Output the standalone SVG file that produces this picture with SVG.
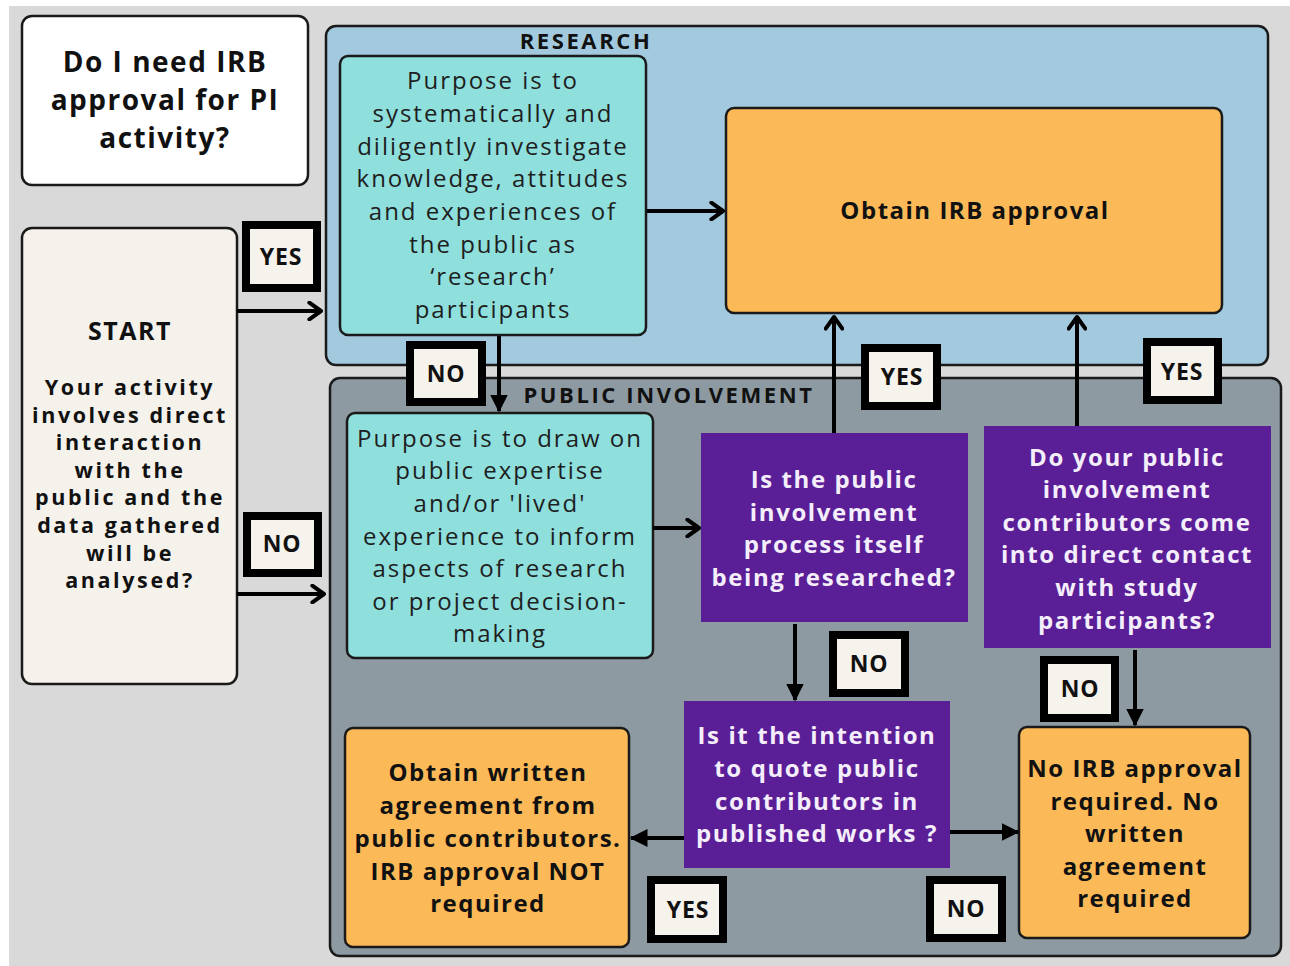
<svg xmlns="http://www.w3.org/2000/svg" width="1290" height="966" viewBox="0 0 1290 966">
<defs>
<style>
.bg{fill:#d9d9d9}
.frame{stroke:#1a1a1a;stroke-width:2.5}
.research{fill:#a3c9de}
.pi{fill:#8d9aa2}
.cyan{fill:#8fdfdd;stroke:#1a1a1a;stroke-width:2.5}
.orange{fill:#fbb957;stroke:#1a1a1a;stroke-width:2.5}
.purple{fill:#5a1e97}
.white{fill:#ffffff;stroke:#1a1a1a;stroke-width:2.5}
.cream{fill:#f5f2ec;stroke:#1a1a1a;stroke-width:2.5}
.lbl{fill:#f6f3ec;stroke:#000;stroke-width:8}
text{font-family:"Open Sans","Liberation Sans",sans-serif;text-anchor:middle;dominant-baseline:central}
.t{font-size:24px;fill:#1e1e1e;letter-spacing:2px}
.b{font-size:24px;font-weight:700;fill:#111;letter-spacing:1.5px}
.s{font-size:21.5px;font-weight:700;fill:#111;letter-spacing:2.6px}
.bw{font-size:24px;font-weight:700;fill:#f4eefa;letter-spacing:1.6px}
.h{font-size:28px;font-weight:700;fill:#111;letter-spacing:1.5px}
.sec{font-size:22px;font-weight:700;fill:#111;letter-spacing:2.6px}
.yn{font-size:23px;font-weight:700;fill:#111;letter-spacing:0.8px}
.arr{stroke:#000;stroke-width:4;fill:none}
</style>
<marker id="chev" viewBox="0 0 12 12" refX="10" refY="6" markerWidth="5" markerHeight="5" orient="auto" markerUnits="strokeWidth">
<path d="M3,1 L10,6 L3,11" fill="none" stroke="#000" stroke-width="2.4" stroke-linecap="round" stroke-linejoin="round"/>
</marker>
<marker id="tri" viewBox="0 0 12 12" refX="11" refY="6" markerWidth="4.5" markerHeight="4.5" orient="auto" markerUnits="strokeWidth">
<path d="M0,0 L12,6 L0,12 Z" fill="#000"/>
</marker>
</defs>

<rect x="0" y="0" width="1290" height="966" fill="#ffffff"/>
<rect class="bg" x="9" y="6" width="1281" height="960"/>

<g id="region-research">
<rect class="research frame" x="326" y="26" width="942" height="339" rx="10"/>
<text class="sec" x="586" y="40">RESEARCH</text>
</g>
<g id="region-public-involvement">
<rect class="pi frame" x="330" y="378" width="951" height="578" rx="10"/>
<text class="sec" x="669" y="394">PUBLIC INVOLVEMENT</text>
</g>

<g id="title">
<rect class="white" x="22" y="16" width="286" height="169" rx="10"/>
<text class="h"><tspan x="165" y="61">Do I need IRB</tspan><tspan x="165" y="99">approval for PI</tspan><tspan x="165" y="137">activity?</tspan></text>
</g>

<g id="start">
<rect class="cream" x="22" y="228" width="215" height="456" rx="10"/>
<text class="h" x="130" y="330" style="font-size:25px">START</text>
<text class="s"><tspan x="130" y="386">Your activity</tspan><tspan x="130" y="413.6">involves direct</tspan><tspan x="130" y="441.2">interaction</tspan><tspan x="130" y="468.8">with the</tspan><tspan x="130" y="496.4">public and the</tspan><tspan x="130" y="524">data gathered</tspan><tspan x="130" y="551.6">will be</tspan><tspan x="130" y="579.2">analysed?</tspan></text>
</g>

<g id="research-purpose">
<rect class="cyan" x="340" y="56" width="306" height="279" rx="8"/>
<text class="t"><tspan x="493" y="79">Purpose is to</tspan><tspan x="493" y="112">systematically and</tspan><tspan x="493" y="145">diligently investigate</tspan><tspan x="493" y="177">knowledge, attitudes</tspan><tspan x="493" y="210">and experiences of</tspan><tspan x="493" y="243">the public as</tspan><tspan x="493" y="275">‘research’</tspan><tspan x="493" y="308">participants</tspan></text>
</g>

<g id="obtain-irb">
<rect class="orange" x="726" y="108" width="496" height="205" rx="8"/>
<text class="b" x="975" y="209">Obtain IRB approval</text>
</g>

<g id="pi-purpose">
<rect class="cyan" x="347" y="413" width="306" height="245" rx="8"/>
<text class="t"><tspan x="500" y="437">Purpose is to draw on</tspan><tspan x="500" y="469">public expertise</tspan><tspan x="500" y="502">and/or 'lived'</tspan><tspan x="500" y="535">experience to inform</tspan><tspan x="500" y="567">aspects of research</tspan><tspan x="500" y="600">or project decision-</tspan><tspan x="500" y="632">making</tspan></text>
</g>

<g id="q-researched">
<rect class="purple" x="701" y="433" width="267" height="189"/>
<text class="bw"><tspan x="834" y="478">Is the public</tspan><tspan x="834" y="511">involvement</tspan><tspan x="834" y="543">process itself</tspan><tspan x="834" y="576">being researched?</tspan></text>
</g>

<g id="q-contact">
<rect class="purple" x="984" y="426" width="287" height="222"/>
<text class="bw"><tspan x="1127" y="456">Do your public</tspan><tspan x="1127" y="488">involvement</tspan><tspan x="1127" y="521">contributors come</tspan><tspan x="1127" y="553">into direct contact</tspan><tspan x="1127" y="586">with study</tspan><tspan x="1127" y="619">participants?</tspan></text>
</g>

<g id="q-quote">
<rect class="purple" x="684" y="701" width="266" height="167"/>
<text class="bw"><tspan x="817" y="734">Is it the intention</tspan><tspan x="817" y="767">to quote public</tspan><tspan x="817" y="800">contributors in</tspan><tspan x="817" y="832">published works ?</tspan></text>
</g>

<g id="written-agreement">
<rect class="orange" x="345" y="728" width="284" height="219" rx="8"/>
<text class="b"><tspan x="488" y="771">Obtain written</tspan><tspan x="488" y="804">agreement from</tspan><tspan x="488" y="837">public contributors.</tspan><tspan x="488" y="870">IRB approval NOT</tspan><tspan x="488" y="902">required</tspan></text>
</g>

<g id="no-irb">
<rect class="orange" x="1019" y="727" width="231" height="211" rx="8"/>
<text class="b"><tspan x="1135" y="767">No IRB approval</tspan><tspan x="1135" y="800">required. No</tspan><tspan x="1135" y="832">written</tspan><tspan x="1135" y="865">agreement</tspan><tspan x="1135" y="897">required</tspan></text>
</g>

<g id="connectors">
<line class="arr" x1="237" y1="311" x2="321" y2="311" marker-end="url(#chev)"/>
<line class="arr" x1="237" y1="594" x2="324" y2="594" marker-end="url(#chev)"/>
<line class="arr" x1="647" y1="211" x2="723" y2="211" marker-end="url(#chev)"/>
<line class="arr" x1="499" y1="336" x2="499" y2="411" marker-end="url(#tri)"/>
<line class="arr" x1="653" y1="528" x2="699" y2="528" marker-end="url(#chev)"/>
<line class="arr" x1="834" y1="433" x2="834" y2="317" marker-end="url(#chev)"/>
<line class="arr" x1="1077" y1="426" x2="1077" y2="317" marker-end="url(#chev)"/>
<line class="arr" x1="795" y1="624" x2="795" y2="700" marker-end="url(#tri)"/>
<line class="arr" x1="1135" y1="650" x2="1135" y2="725" marker-end="url(#tri)"/>
<line class="arr" x1="684" y1="838" x2="631" y2="838" marker-end="url(#tri)"/>
<line class="arr" x1="950" y1="832" x2="1018" y2="832" marker-end="url(#tri)"/>
</g>

<g id="label-yes-1"><rect class="lbl" x="246" y="225" width="71" height="63"/><text class="yn" x="281" y="256">YES</text></g>
<g id="label-no-1"><rect class="lbl" x="247" y="516" width="71" height="57"/><text class="yn" x="282" y="543">NO</text></g>
<g id="label-no-2"><rect class="lbl" x="410" y="345" width="72" height="57"/><text class="yn" x="446" y="373">NO</text></g>
<g id="label-yes-2"><rect class="lbl" x="865" y="348" width="72" height="58"/><text class="yn" x="902" y="376">YES</text></g>
<g id="label-yes-3"><rect class="lbl" x="1147" y="342" width="71" height="58"/><text class="yn" x="1182" y="371">YES</text></g>
<g id="label-no-3"><rect class="lbl" x="833" y="635" width="72" height="58"/><text class="yn" x="869" y="663">NO</text></g>
<g id="label-no-4"><rect class="lbl" x="1044" y="660" width="71" height="58"/><text class="yn" x="1080" y="688">NO</text></g>
<g id="label-yes-4"><rect class="lbl" x="651" y="880" width="72" height="59"/><text class="yn" x="688" y="909">YES</text></g>
<g id="label-no-5"><rect class="lbl" x="930" y="880" width="72" height="58"/><text class="yn" x="966" y="908">NO</text></g>
</svg>
